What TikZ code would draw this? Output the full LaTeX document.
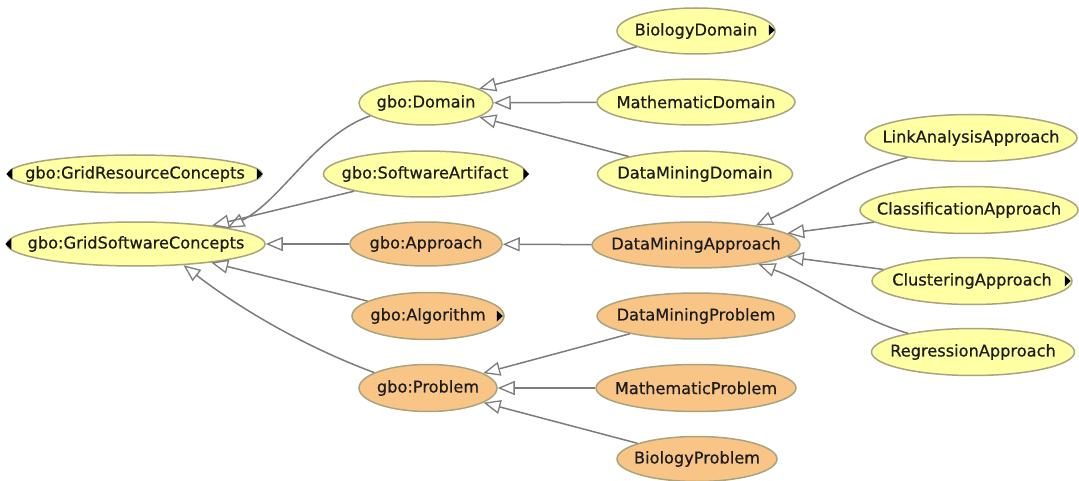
\documentclass[tikz,border=0pt]{standalone}
\usepackage{fontspec}
\setmainfont{DejaVu Sans}
\usetikzlibrary{shapes.geometric,arrows.meta}
\definecolor{clsyellow}{HTML}{FFFFA3}
\definecolor{clsorange}{HTML}{F9C587}
\definecolor{clsborder}{HTML}{A8A47E}
\definecolor{linkgray}{HTML}{7C7C7C}
\definecolor{labelink}{HTML}{1C1C1C}

\begin{document}
\begin{tikzpicture}[x=1pt,y=-1pt,
  cls/.style={ellipse, draw=clsborder, line width=1.5pt, inner sep=0pt},
  yel/.style={cls, fill=clsyellow},
  org/.style={cls, fill=clsorange},
  every label/.style={text=labelink, font=\fontsize{16.2}{19}\selectfont\addfontfeature{FakeBold=0.6}, inner sep=0pt},
  isa/.style={draw=linkgray, line width=1.5pt,
    -{Triangle[open, length=17pt, width=14pt, fill=white, line width=1.3pt]}},
  expander/.style={fill=black}
]
\useasboundingbox[fill=white] (0,0) rectangle (1079,481);

% classes
\node[yel, minimum width=254pt, minimum height=38pt, label=center:gbo:GridResourceConcepts] (gr) at (135,174) {};
\node[yel, minimum width=258pt, minimum height=44pt, label=center:gbo:GridSoftwareConcepts] (gs) at (136,244) {};
\node[yel, minimum width=134pt, minimum height=44pt, label=center:gbo:Domain] (dom) at (426,103) {};
\node[yel, minimum width=203pt, minimum height=46pt, label=center:gbo:SoftwareArtifact] (sa) at (425,174) {};
\node[org, minimum width=152pt, minimum height=44pt, label=center:gbo:Approach] (app) at (426,244) {};
\node[org, minimum width=152pt, minimum height=47pt, label=center:gbo:Algorithm] (alg) at (428,316) {};
\node[org, minimum width=138pt, minimum height=47pt, label=center:gbo:Problem] (prob) at (428,388) {};

\node[yel, minimum width=158pt, minimum height=46pt, label=center:BiologyDomain] (bd) at (696,31) {};
\node[yel, minimum width=198pt, minimum height=46pt, label=center:MathematicDomain] (md) at (696,102) {};
\node[yel, minimum width=195pt, minimum height=46pt, label=center:DataMiningDomain] (dmd) at (695,174) {};
\node[org, minimum width=208pt, minimum height=46pt, label=center:DataMiningApproach] (dma) at (696,245) {};
\node[org, minimum width=198pt, minimum height=46pt, label=center:DataMiningProblem] (dmp) at (696,316) {};
\node[org, minimum width=200pt, minimum height=47pt, label=center:MathematicProblem] (mp) at (696,388) {};
\node[org, minimum width=160pt, minimum height=45pt, label=center:BiologyProblem] (bp) at (697,459) {};

\node[yel, minimum width=212pt, minimum height=47pt, label=center:LinkAnalysisApproach] (la) at (971,138) {};
\node[yel, minimum width=218pt, minimum height=47pt, label=center:ClassificationApproach] (ca) at (969,210) {};
\node[yel, minimum width=200pt, minimum height=47pt, label=center:ClusteringApproach] (cl) at (972,281) {};
\node[yel, minimum width=203pt, minimum height=47pt, label=center:RegressionApproach] (ra) at (973,352) {};

% subclass links
\draw[isa] (dom.193) .. controls (315,135) and (282,200) .. (gs.10);
\draw[isa] (sa) -- (gs);
\draw[isa] (app) -- (gs);
\draw[isa] (alg) -- (gs);
\draw[isa] (prob.164) .. controls (300,345) and (235,305) .. (gs.336);

\draw[isa] (bd) -- (dom);
\draw[isa] (md) -- (dom);
\draw[isa] (dmd) -- (dom);

\draw[isa] (dma) -- (app);
\draw[isa] (la.197) .. controls (855,172) and (810,200) .. (dma.18);
\draw[isa] (ca) -- (dma);
\draw[isa] (cl) -- (dma);
\draw[isa] (ra.164) .. controls (855,318) and (815,285) .. (dma.343);

\draw[isa] (dmp) -- (prob);
\draw[isa] (mp) -- (prob);
\draw[isa] (bp) -- (prob);

% expand / collapse markers
\fill[expander] ([xshift=-1pt]gr.west) -- ++(6,-5.5) -- ++(0,11) -- cycle;
\fill[expander] ([xshift=0pt]gr.east) -- ++(-6,-5.5) -- ++(0,11) -- cycle;
\fill[expander] ([xshift=-1pt]gs.west) -- ++(6,-5.5) -- ++(0,11) -- cycle;
\fill[expander] ([xshift=2pt]sa.east) -- ++(-6,-5.5) -- ++(0,11) -- cycle;
\fill[expander] ([xshift=-1pt,yshift=1pt]bd.east) -- ++(-6,-5.5) -- ++(0,11) -- cycle;
\fill[expander] ([xshift=-2pt]alg.east) -- ++(-6,-5.5) -- ++(0,11) -- cycle;
\fill[expander] ([xshift=-2pt]cl.east) -- ++(-6,-5.5) -- ++(0,11) -- cycle;
\end{tikzpicture}
\end{document}
